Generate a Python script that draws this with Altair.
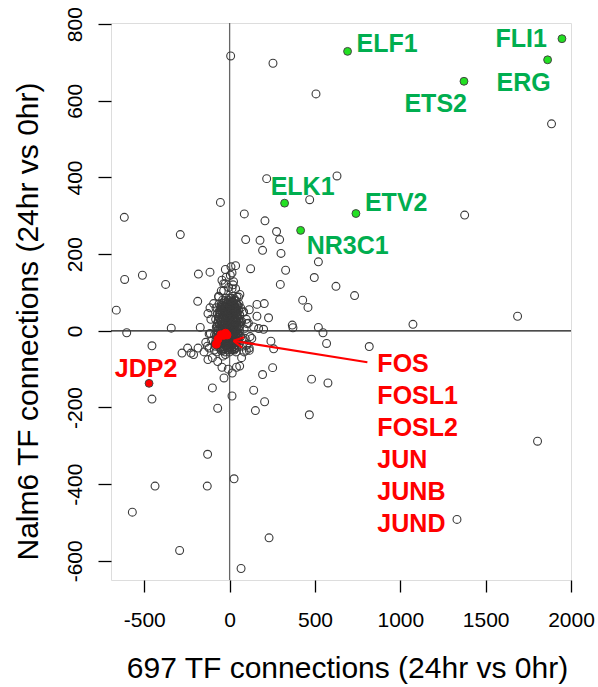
import altair as alt
import pandas as pd

# ---- hollow TF points (697 TF connections vs Nalm6 TF connections) ----
tf_x = [6, 254, 506, 1886, 217, 629, 469, -54, 1377, -617, 86, 207, -289, 275, 293, 94, 178, 193,
        301, 520, 328, 123, 496, 297, 623, 732, -615, -511, -375, -183, -115, 8, 35, 4,
        -664, -187, -127, -603, -342, -172, -455, -279, -246, -226, -211, -185, -127, -101, -39, -25,
        59, -33, -101, 14, -70, 141, 205, 151, 193, 252, 242, 258, 160, 228, 160, 203, 170, 199, 141,
        98, 115, 367, 371, 520, 547, 568, 818, 428, 459, 480, 576, 467, -455,
        1804, -129, -437, -131, 26, -570, 1332, 231, -293, 67, 1074, 1687,
        14, -25, -49, -6, 82, 53, 102, 73, 98, -94, -64, -113, -84, 23, 14, 43, -45, -35,
        -85, -78, -72, -68, -62, -58, -54, -50, -47, -44, -41, -38, -35, -33, -30, -28, -26, -24, -22,
        -20, -18, -16, -14, -12, -10, -8, -6, -4, -2, 0, 2, 4, 6, 8, 10, 12, 14, 16, 18, 20, 22, 24,
        26, 28, 30, 32, 34, 36, 38, 40, 42, 44,
        -82, -76, -66, -60, -52, -46, -40, -36, -32, -27, -23, -19, -15, -11, -7, -3, 1, 5, 9, 13,
        17, 21, 25, 29, 33, 37, 41, 45,
        -88, -80, -70, -64, -56, -48, -42, -34, -29, -21, -13, -9, -1, 3, 7, 11, 15, 19, 23, 27, 31,
        35, 39, 43,
        50, 55, 60, 65, 70, 75, 80, 85, 92, 98, 55, 65,
        -110, 110, -105, 105, -115, 115, -120, 120, -60, -80, -90, -120, -70, -45, -8, 15, 40, 70,
        85, 115, 130, -130, -140, -150, -65, 60, -35, 35, -20, 20, -25]
tf_y = [717, 698, 618, 540, 397, 404, 342, 335, 302, 296, 305, 287, 251, 259, 238, 238, 236, 210,
        202, 180, 158, 162, 139, 121, 116, 92, 134, 145, 121, 148, 153, 167, 170, 145,
        54, 77, 45, -5, 7, 9, -39, -58, -45, -58, -62, -45, -75, -70, -66, -62,
        -92, -123, -149, -170, -202, -155, -185, -208, -114, -96, -27, -47, 38, 34, 69, 71, 6, 4, 10,
        -51, -51, 15, 8, 9, -5, -33, -41, 80, 61, -126, -136, -219, -178,
        -288, -322, -405, -405, -386, -473, -492, -540, -573, -620, 17, 38,
        151, 123, 104, 113, 49, 88, 19, -20, -38, 71, 88, -7, -33, 128, 110, 88, 132, 123,
        -40, 10, 45, -20, 70, -45, 25, 55, -30, 5, 80, -50, 40, -5, 65, -35, 20, 50, -20,
        75, 0, 35, -45, 60, 15, -28, 45, 85, -10, 28, -40, 55, 5, 70, -22, 38, -50, 18, 60, -8, 44, -32,
        80, 12, -45, 30, 58, -15, 48, -38, 22, 68,
        30, -55, 0, 35, -10, 65, -22, 15, 48, -55, 30, -38, 10, 52, -15, 35, -55, 22, 48, -5,
        -35, 75, -18, 52, 0, -55, 35, -10,
        -10, 60, 20, -35, 48, -52, 62, -18, 8, 62, -30, 28, 58, -25, 40, 85, -15, 30, 0, -50, 62,
        25, -25, 50,
        -30, 10, 40, -15, 25, -40, 50, 5, -20, 30, 70, 60,
        30, 20, -25, -35, 60, 55, -8, -15, -30, -35, -50, -45, -80, -95, -100, -110, -95, -70,
        -55, -45, -20, -40, -30, -55, 90, 95, 105, 110, 140, 120, 160]

# ---- the dense core of the cloud around the origin (hollow points too) ----
core_x = [-20, 5, 28,
          -30, -8, 14, 35,
          -40, -15, 2, 22, 40,
          -45, -25, -5, 12, 30, 48,
          -52, -32, -12, 8, 25, 42,
          -58, -38, -20, 0, 18, 36, 52,
          -62, -44, -26, -6, 12, 30, 46,
          -55, -36, -16, 4, 22, 40, 58,
          -66, -46, -28, -10, 10, 28, 48,
          -58, -38, -20, 0, 18, 38, 55,
          -68, -48, -30, -12, 8, 26, 44, 62,
          -60, -40, -22, -2, 16, 34, 52,
          -72, -52, -34, -14, 4, 24, 42, 60,
          -64, -44, -26, -6, 14, 32, 50,
          -75, -56, -36, -16, 2, 22, 40, 58,
          -66, -46, -28, -8, 12, 30, 48,
          -78, -58, -38, -18, 0, 20, 38, 56,
          -70, -50, -30, -10, 8, 28, 46,
          -80, -60, -42, -22, -2, 18, 36, 54,
          -72, -52, -34, -14, 6, 26, 44,
          -64, -44, -24, -4, 16, 34,
          -56, -36, -16, 4, 24, 42,
          -48, -28, -8, 12, 30]
core_y = [85, 86, 84,
          78, 79, 77, 78,
          72, 71, 73, 72, 70,
          66, 65, 67, 66, 64, 66,
          60, 61, 59, 60, 61, 59,
          54, 55, 53, 54, 55, 53, 54,
          48, 49, 47, 48, 49, 47, 48,
          42, 43, 41, 42, 43, 41, 42,
          36, 37, 35, 36, 37, 35, 36,
          30, 31, 29, 30, 31, 29, 30,
          24, 25, 23, 24, 25, 23, 24, 25,
          18, 19, 17, 18, 19, 17, 18,
          12, 13, 11, 12, 13, 11, 12, 13,
          6, 7, 5, 6, 7, 5, 6,
          0, 1, -1, 0, 1, -1, 0, 1,
          -6, -5, -7, -6, -5, -7, -6,
          -12, -11, -13, -12, -11, -13, -12, -11,
          -18, -17, -19, -18, -17, -19, -18,
          -24, -23, -25, -24, -23, -25, -24, -23,
          -30, -29, -31, -30, -29, -31, -30,
          -36, -35, -37, -36, -35, -37,
          -42, -41, -43, -42, -41, -43,
          -48, -47, -49, -48, -47]

# ---- highlighted ETS-family TFs (green) ----
green_names = ["ELF1", "FLI1", "ERG", "ETS2", "ELK1", "ETV2", "NR3C1"]
green_x = [691, 1947, 1863, 1373, 322, 740, 416]
green_y = [729, 762, 707, 651, 333, 306, 262]

# ---- highlighted AP-1 TFs (red) ----
red_names = ["FOS", "FOSL1", "FOSL2", "JUN", "JUNB", "JUND"]
red_x = [-78, -68, -50, -36, -24, -15]
red_y = [-35, -22, -10, -12, -6, -11]

jdp2_name = ["JDP2"]
jdp2_x = [-472]
jdp2_y = [-137]

# arrow from the AP-1 label block to the cluster (tail, head)
arrow_x = [807, 23]
arrow_y = [-82, -26]

x_ticks = [-500, 0, 500, 1000, 1500, 2000]
y_ticks = [-600, -400, -200, 0, 200, 400, 600, 800]

FONT = "Liberation Sans"
NARROW = "Liberation Sans Narrow, Arial Narrow, Liberation Sans"
GREEN_TXT = "#00AE4F"
GREEN_PT = "#22E022"
RED = "#FF0000"

xs = alt.Scale(domain=[-695, 2000], nice=False, zero=False)
ys = alt.Scale(domain=[-650, 803], nice=False, zero=False)

xaxis = alt.Axis(values=x_ticks, grid=False, domain=False, tickSize=12, tickWidth=1.3,
                 tickColor="black", labelFont=FONT, labelFontSize=21, labelColor="black",
                 labelPadding=17, labelOverlap=False, labelFlush=False,
                 labelExpr="'' + datum.value",
                 title="697 TF connections (24hr vs 0hr)", titleFont=FONT, titleFontSize=30,
                 titleFontWeight="normal", titleColor="black", titleX=236, titleY=88,
                 titleAlign="center", titleBaseline="middle", titleAnchor="middle")
yaxis = alt.Axis(values=y_ticks, grid=False, domain=False, tickSize=13, tickWidth=1.3,
                 tickColor="black", labelFont=NARROW, labelFontSize=21, labelColor="black",
                 labelAngle=270, labelAlign="center", labelBaseline="bottom",
                 labelPadding=13, labelOverlap=False, labelFlush=False,
                 labelExpr="'' + datum.value",
                 title="Nalm6 TF connections (24hr vs 0hr)", titleFont=FONT, titleFontSize=30,
                 titleFontWeight="normal", titleColor="black", titleAngle=270,
                 titleX=-83, titleY=298, titleAlign="center", titleBaseline="middle",
                 titleAnchor="middle")

tf_df = pd.DataFrame({"x": tf_x + core_x, "y": tf_y + core_y})
green_df = pd.DataFrame({"name": green_names, "x": green_x, "y": green_y})
red_df = pd.DataFrame({"name": red_names, "x": red_x, "y": red_y})
jdp_df = pd.DataFrame({"name": jdp2_name, "x": jdp2_x, "y": jdp2_y})
arrow_df = pd.DataFrame({"x": [arrow_x[0]], "y": [arrow_y[0]], "x2": [arrow_x[1]], "y2": [arrow_y[1]]})
head_df = pd.DataFrame({"x": [arrow_x[1]], "y": [arrow_y[1]]})
block_df = pd.DataFrame({"x": [arrow_x[0]], "y": [arrow_y[0]], "t": ["\n".join(red_names)]})

vline = alt.Chart(pd.DataFrame({"v": [0]})).mark_rule(color="#666666", strokeWidth=1.3).encode(
    x=alt.X("v:Q", scale=xs, axis=xaxis))
hline = alt.Chart(pd.DataFrame({"v": [0]})).mark_rule(color="#111111", strokeWidth=1.3).encode(
    y=alt.Y("v:Q", scale=ys, axis=yaxis))

hollow = alt.Chart(tf_df).mark_point(shape="circle", filled=False, size=62, stroke="#3a3a3a",
                                     strokeWidth=1.1, opacity=1).encode(
    x=alt.X("x:Q", scale=xs, axis=xaxis), y=alt.Y("y:Q", scale=ys, axis=yaxis))

red_pts = alt.Chart(red_df).mark_point(shape="circle", filled=True, size=62, fill=RED, stroke=RED,
                                       strokeWidth=1, opacity=1).encode(
    x=alt.X("x:Q", scale=xs), y=alt.Y("y:Q", scale=ys))
jdp_pt = alt.Chart(jdp_df).mark_point(shape="circle", filled=True, size=62, fill=RED, stroke="#444444",
                                      strokeWidth=1, opacity=1).encode(
    x=alt.X("x:Q", scale=xs), y=alt.Y("y:Q", scale=ys))
green_pts = alt.Chart(green_df).mark_point(shape="circle", filled=True, size=62, fill=GREEN_PT,
                                           stroke="#444444", strokeWidth=1, opacity=1).encode(
    x=alt.X("x:Q", scale=xs), y=alt.Y("y:Q", scale=ys))

arrow = alt.Chart(arrow_df).mark_rule(color=RED, strokeWidth=2.2).encode(
    x=alt.X("x:Q", scale=xs), y=alt.Y("y:Q", scale=ys), x2="x2:Q", y2="y2:Q")
head = alt.Chart(head_df).mark_point(shape="M0,0L1,-0.55M0,0L1,0.55", filled=False, size=380,
                                     stroke=RED, strokeWidth=2.2, angle=10, opacity=1).encode(
    x=alt.X("x:Q", scale=xs), y=alt.Y("y:Q", scale=ys))

# label placement (pixel offsets relative to each point)
label_style = {
    "ELF1": ("left", 9, -7),
    "FLI1": ("right", -15, 0),
    "ERG": ("center", -24, 23),
    "ETS2": ("right", 3, 23),
    "ELK1": ("center", 18, -16),
    "ETV2": ("left", 9, -11),
    "NR3C1": ("left", 6, 16),
}
labels = []
for nm, (al, ddx, ddy) in label_style.items():
    labels.append(alt.Chart(green_df).transform_filter(alt.datum.name == nm).mark_text(
        align=al, baseline="middle", dx=ddx, dy=ddy, font=FONT, fontWeight="bold", fontSize=25,
        color=GREEN_TXT).encode(x=alt.X("x:Q", scale=xs), y=alt.Y("y:Q", scale=ys), text="name:N"))

jdp_label = alt.Chart(jdp_df).mark_text(align="center", baseline="middle", dx=-3, dy=-14, font=FONT,
                                        fontWeight="bold", fontSize=25, color=RED).encode(
    x=alt.X("x:Q", scale=xs), y=alt.Y("y:Q", scale=ys), text="name:N")

block = alt.Chart(block_df).mark_text(align="left", baseline="top", dx=10, dy=-10, font=FONT,
                                      fontWeight="bold", fontSize=25, color=RED, lineBreak="\n",
                                      lineHeight=32).encode(
    x=alt.X("x:Q", scale=xs), y=alt.Y("y:Q", scale=ys), text="t:N")

chart = alt.layer(vline, hline, hollow, arrow, head, red_pts, jdp_pt, green_pts, *labels, jdp_label,
                  block).properties(
    width=460, height=557,
    padding={"left": 111, "top": 23, "right": 27, "bottom": 107},
    autosize=alt.AutoSizeParams(type="none"),
).configure_view(stroke="black", strokeWidth=1.3).configure(background="white")

chart.save("out.html", embed_options={"renderer": "svg", "actions": False})
